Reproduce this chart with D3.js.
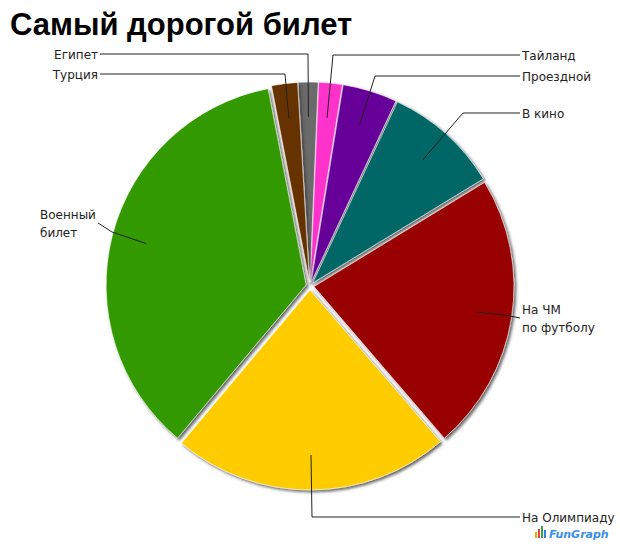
<!DOCTYPE html>
<html><head><meta charset="utf-8">
<script src="https://cdn.jsdelivr.net/npm/d3@7"></script>
<style>body{margin:0;background:#fff}svg{display:block}</style>
</head><body>
<svg id="c" width="620" height="547"></svg>
<script>
// ---- data ----
const categories = ["Египет","Тайланд","Проездной","В кино","На ЧМ по футболу","На Олимпиаду","Военный билет","Турция"];
const values = [1.6, 1.9, 4.4, 9.3, 22.4, 22.4, 35.8, 2.1];
const colors = ["#6b6b6b","#ff33cc","#660099","#006666","#990000","#ffcc00","#339900","#663300"];
const labelLines = [["Египет"],["Тайланд"],["Проездной"],["В кино"],["На ЧМ","по футболу"],["На Олимпиаду"],["Военный","билет"],["Турция"]];

// ---- layout ----
const W = 620, H = 547, cx = 310, cy = 286, R = 200, explode = 4, labelR = 165;
const startDeg = -3.4;
// label leader-line routing: elbow points (annotation layout), side
const labelLayout = [
  {elbow:[[308,54]], end:[100,54], side:"left"},
  {elbow:[[333,55]], end:[520,55], side:"right"},
  {elbow:[[375,76]], end:[520,76], side:"right"},
  {elbow:[[463,113]], end:[520,113], side:"right"},
  {elbow:[[505,315]], end:[520,318], side:"right"},
  {elbow:[[312,517]], end:[520,517], side:"right"},
  {elbow:[[112,232]], end:[98,223], side:"left"},
  {elbow:[[285,74]], end:[100,74], side:"left"}
];

const svg = d3.select("#c");
const defs = svg.append("defs");
const f = defs.append("filter").attr("id","sh").attr("x","-20%").attr("y","-20%").attr("width","140%").attr("height","140%");
f.append("feDropShadow").attr("dx",2).attr("dy",2).attr("stdDeviation",1.6).attr("flood-color","#333").attr("flood-opacity",0.75);

svg.append("text").attr("x",10).attr("y",35)
  .attr("font-family","'Liberation Sans', Arial, sans-serif").attr("font-weight","bold")
  .attr("font-size",31).attr("fill","#000").text("Самый дорогой билет");

const rad = Math.PI/180;
const pie = d3.pie().sort(null).value(d=>d).startAngle(startDeg*rad).endAngle((startDeg+360)*rad);
const arcs = pie(values);
const arc = d3.arc().innerRadius(0).outerRadius(R);

const g = svg.append("g").attr("transform",`translate(${cx},${cy})`);
arcs.forEach((a,i)=>{
  const mid = (a.startAngle+a.endAngle)/2;
  a.ox = explode*Math.sin(mid); a.oy = -explode*Math.cos(mid); a.mid = mid;
});
g.selectAll("path.slice").data(arcs).join("path").attr("class","slice")
  .attr("transform",d=>`translate(${d.ox},${d.oy})`)
  .attr("d",arc).attr("fill",(d,i)=>colors[i])
  .attr("stroke","#fff").attr("stroke-width",0.6)
  .attr("filter","url(#sh)");

// leader lines
const lineG = svg.append("g");
arcs.forEach((a,i)=>{
  const p0 = [cx + a.ox + labelR*Math.sin(a.mid), cy + a.oy - labelR*Math.cos(a.mid)];
  const L = labelLayout[i];
  const pts = [p0, ...L.elbow, L.end];
  lineG.append("path").attr("d", d3.line()(pts))
    .attr("fill","none").attr("stroke","#222").attr("stroke-width",1);
  const lines = labelLines[i];
  const lh = 18;
  const t = svg.append("text")
    .attr("font-family","'DejaVu Sans', Verdana, sans-serif").attr("font-size",12).attr("fill","#222")
    .attr("text-anchor", L.side==="left" ? (lines.length>1?"start":"end") : "start");
  const tx = L.side==="left" ? (lines.length>1 ? 40 : L.end[0]-2) : L.end[0]+2;
  lines.forEach((s,k)=>{
    t.append("tspan").attr("x",tx)
      .attr("y", L.end[1] + 4.5 + (k - (lines.length-1)/2)*lh).text(s);
  });
});

// watermark
const wm = svg.append("g").attr("transform","translate(535,526)");
const barCols = ["#f2a900","#e8403a","#2aa84a","#3b7fd9"];
const barH = [6,9,12,8];
barCols.forEach((c,i)=>wm.append("rect").attr("x",i*3).attr("y",12-barH[i]).attr("width",2).attr("height",barH[i]).attr("fill",c));
wm.append("text").attr("x",14).attr("y",12).attr("font-family","'DejaVu Sans', sans-serif")
  .attr("font-weight","bold").attr("font-style","italic").attr("font-size",11).attr("fill","#3a8ee6").text("FunGraph");
</script>
</body></html>
